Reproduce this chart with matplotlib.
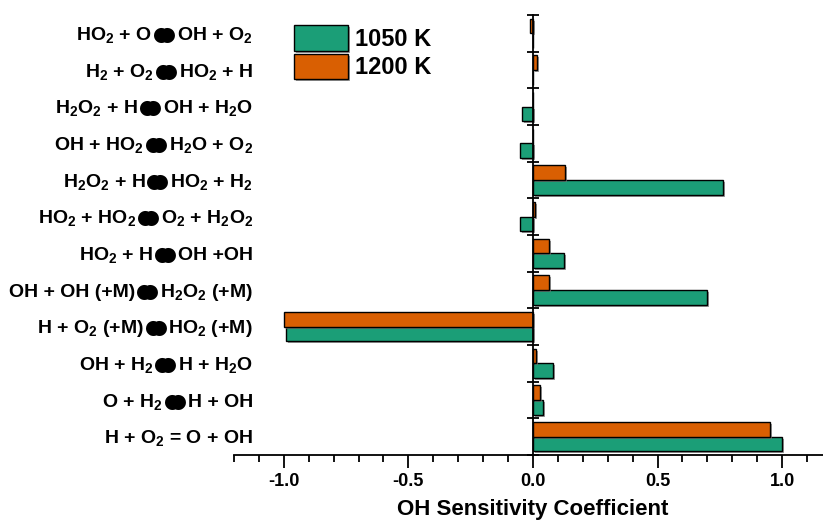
import numpy as np
import matplotlib
matplotlib.use("Agg")
import matplotlib.pyplot as plt
import matplotlib.patheffects as pe
from matplotlib.ticker import MultipleLocator, FixedLocator

plt.rcParams['font.family'] = ['Liberation Sans', 'DejaVu Sans']
plt.rcParams['font.weight'] = 'bold'
plt.rcParams['mathtext.fontset'] = 'custom'
plt.rcParams['mathtext.default'] = 'regular'
plt.rcParams['axes.unicode_minus'] = False

# reactions listed top to bottom, "<=>" is drawn as a filled double dot
reactions = [
    "HO$_2$ + O<=>OH + O$_2$",
    "H$_2$ + O$_2$<=>HO$_2$ + H",
    "H$_2$O$_2$ + H<=>OH + H$_2$O",
    "OH + HO$_2$<=>H$_2$O + O$_2$",
    "H$_2$O$_2$ + H<=>HO$_2$ + H$_2$",
    "HO$_2$ + HO$_2$<=>O$_2$ + H$_2$O$_2$",
    "HO$_2$ + H<=>OH +OH",
    "OH + OH (+M)<=>H$_2$O$_2$ (+M)",
    "H + O$_2$ (+M)<=>HO$_2$ (+M)",
    "OH + H$_2$<=>H + H$_2$O",
    "O + H$_2$<=>H + OH",
    "H + O$_2$ = O + OH",
]
sens_1050 = [0.0, 0.0, -0.045, -0.052, 0.762, -0.052, 0.124, 0.70, -0.99, 0.079, 0.04, 1.0]
sens_1200 = [-0.01, 0.015, 0.0, 0.0, 0.13, 0.008, 0.063, 0.063, -1.0, 0.013, 0.027, 0.95]

green = '#1b9e77'
orange = '#d95f02'
blob = "$\u25cf\\!\\!\\!\\!\\;\u25cf$"

n = len(reactions)
y = np.arange(n)[::-1]

fig = plt.figure(figsize=(8.23, 5.25), dpi=100)
ax = fig.add_axes([234/823, 70/525, 589/823, 440/525])

shadow = [pe.SimplePatchShadow(offset=(1.5, -1.5), shadow_rgbFace='0.45', alpha=0.7), pe.Normal()]
b1 = ax.barh(y - 0.2, sens_1050, height=0.4, color=green, edgecolor='black', linewidth=1.0,
             label='1050 K', path_effects=shadow)
b2 = ax.barh(y + 0.2, sens_1200, height=0.4, color=orange, edgecolor='black', linewidth=1.0,
             label='1200 K', path_effects=shadow)

ax.set_xlim(-1.2, 1.164)
ax.set_ylim(-0.5, n - 0.5)

for s in ['top', 'right']:
    ax.spines[s].set_visible(False)
ax.spines['left'].set_position(('data', 0))
ax.spines['left'].set_linewidth(1.3)
ax.spines['bottom'].set_linewidth(1.3)

ax.yaxis.set_major_locator(FixedLocator(np.arange(n + 1) - 0.5))
ax.tick_params(axis='y', direction='inout', length=9, width=1.3, labelleft=False)

ax.xaxis.set_major_locator(FixedLocator([-1.0, -0.5, 0.0, 0.5, 1.0]))
ax.xaxis.set_minor_locator(MultipleLocator(0.1))
ax.set_xticklabels(['-1.0', '-0.5', '0.0', '0.5', '1.0'])
ax.tick_params(axis='x', which='major', direction='out', length=9, width=1.3, pad=4, labelsize=13)
ax.tick_params(axis='x', which='minor', direction='out', length=5, width=1.3)
for t in ax.get_xticklabels():
    t.set_fontweight('bold')

# reaction names: right half, then the blob, then left half chained leftwards
ytr = ax.get_yaxis_transform()
for yi, lab in zip(y, reactions):
    yb = yi - 0.18
    parts = lab.split('<=>')
    t = ax.text(0.0323, yb, parts[-1], transform=ytr, ha='right', va='baseline',
                fontsize=14, fontweight='bold', clip_on=False)
    if len(parts) == 2:
        b = ax.annotate(blob, xy=(0, yb), xycoords=(t, 'data'), xytext=(0, -2.2),
                        textcoords='offset points', ha='right', va='baseline',
                        fontsize=25, annotation_clip=False)
        ax.annotate(parts[0], xy=(0, yb), xycoords=(b, 'data'), xytext=(1.5, 0),
                    textcoords='offset points', ha='right', va='baseline',
                    fontsize=14, fontweight='bold', annotation_clip=False)

ax.set_xlabel('OH Sensitivity Coefficient', fontsize=16, fontweight='bold')
ax.xaxis.set_label_coords((533 - 234)/589, -0.1)

ax.legend(handles=[b1, b2], loc='upper left', bbox_to_anchor=(294/823, 1 - 25/525),
          bbox_transform=fig.transFigure, frameon=False, borderpad=0,
          handlelength=2.27, handleheight=1.3, handletextpad=0.3, labelspacing=0.12,
          borderaxespad=0, prop={'weight': 'bold', 'size': 17})

fig.savefig('out.png', dpi=100)
